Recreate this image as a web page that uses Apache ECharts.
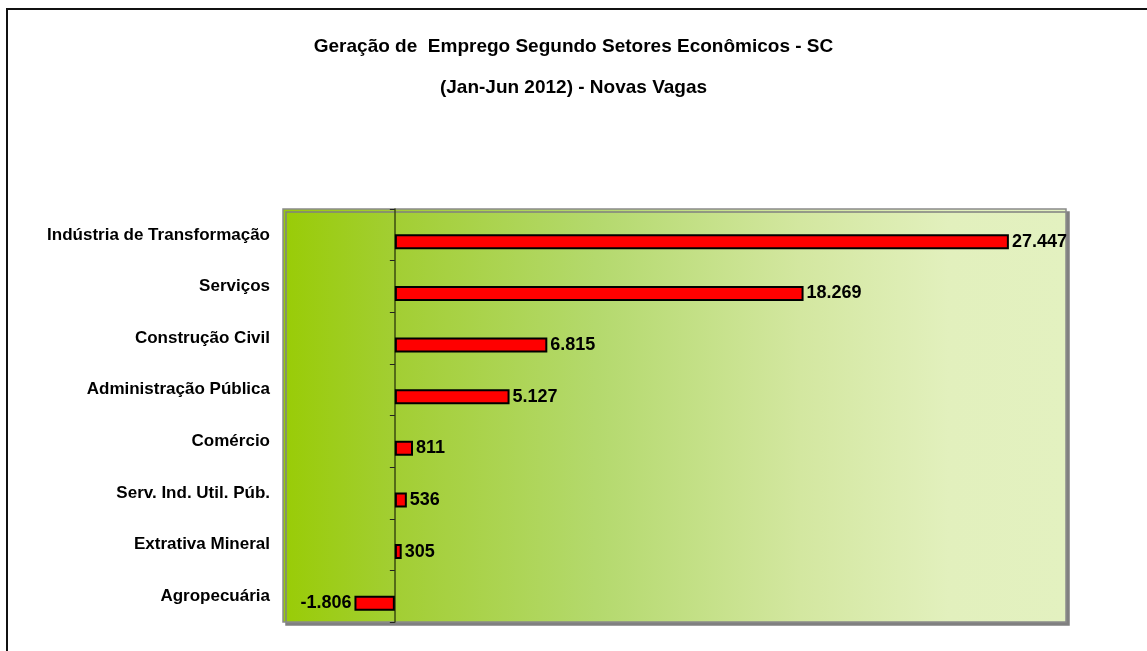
<!DOCTYPE html>
<html>
<head>
<meta charset="utf-8">
<script src="https://cdn.jsdelivr.net/npm/echarts@6/dist/echarts.min.js"></script>
<style>
  html, body { margin: 0; padding: 0; background: #fff; }
  #chart { width: 1147px; height: 651px; }
</style>
</head>
<body>
<div id="chart"></div>
<script>
// data
var setores = [
  "Indústria de Transformação",
  "Serviços",
  "Construção Civil",
  "Administração Pública",
  "Comércio",
  "Serv. Ind. Util. Púb.",
  "Extrativa Mineral",
  "Agropecuária"
];
var vagas = [27447, 18269, 6815, 5127, 811, 536, 305, -1806];

var font = "'Liberation Sans Narrow', 'Arial Narrow', 'Liberation Sans', Arial, sans-serif";

function fmt(v) {
  var s = Math.abs(v).toString().replace(/\B(?=(\d{3})+(?!\d))/g, ".");
  return (v < 0 ? "-" : "") + s;
}

var chart = echarts.init(document.getElementById("chart"));

chart.setOption({
  backgroundColor: "#fff",
  animation: false,
  title: {
    text: "Geração de  Emprego Segundo Setores Econômicos - SC\n(Jan-Jun 2012) - Novas Vagas",
    left: "center",
    top: 21,
    textStyle: {
      fontFamily: font,
      fontSize: 19,
      fontWeight: "bold",
      color: "#000",
      lineHeight: 41
    }
  },
  graphic: [
    {
      type: "rect",
      shape: { x: 7, y: 9, width: 1160, height: 660 },
      style: { fill: "none", stroke: "#111", lineWidth: 2 },
      silent: true
    }
  ],
  grid: {
    left: 283,
    right: 81,
    top: 209,
    bottom: 29,
    show: true,
    borderColor: "#8a8a8a",
    borderWidth: 1.5,
    shadowColor: "#808080",
    shadowOffsetX: 3,
    shadowOffsetY: 3,
    shadowBlur: 0,
    backgroundColor: new echarts.graphic.LinearGradient(0, 0, 1, 0, [
      { offset: 0, color: "#99cc06" },
      { offset: 0.14, color: "#a2ce32" },
      { offset: 0.4, color: "#b4d96d" },
      { offset: 0.66, color: "#d3e7a0" },
      { offset: 0.85, color: "#e2f0bd" },
      { offset: 1, color: "#e3f1c0" }
    ])
  },
  xAxis: {
    type: "value",
    min: -5000,
    max: 30000,
    interval: 5000,
    axisLine: { show: false, onZero: false },
    axisTick: { show: false },
    axisLabel: { show: false },
    splitLine: { show: false }
  },
  yAxis: [
    {
      type: "category",
      data: setores,
      inverse: true,
      position: "left",
      axisLine: { show: false, onZero: false },
      axisTick: { show: false },
      axisLabel: {
        margin: 13,
        fontFamily: font,
        fontSize: 17,
        fontWeight: "bold",
        color: "#000"
      }
    },
    {
      type: "category",
      data: setores,
      inverse: true,
      position: "left",
      axisLine: { show: true, onZero: true, lineStyle: { color: "#3a4a10", width: 1.5 } },
      axisTick: { show: true, length: 5, lineStyle: { color: "#222" } },
      axisLabel: { show: false }
    }
  ],
  series: [
    {
      // empty slot so the bars sit a little below the band centre, as in the original
      type: "bar",
      yAxisIndex: 0,
      data: setores.map(function () { return null; }),
      barWidth: 15,
      barGap: "-7%",
      silent: true
    },
    {
      type: "bar",
      yAxisIndex: 0,
      data: vagas.map(function (v) {
        return {
          value: v,
          label: { position: v < 0 ? "left" : "right" }
        };
      }),
      barWidth: 15,
      barGap: "-7%",
      itemStyle: {
        color: "#ff0000",
        borderColor: "#000",
        borderWidth: 2
      },
      label: {
        show: true,
        distance: 3,
        fontFamily: font,
        fontSize: 18,
        fontWeight: "bold",
        color: "#000",
        formatter: function (p) { return fmt(p.value); }
      }
    }
  ]
});
</script>
</body>
</html>
